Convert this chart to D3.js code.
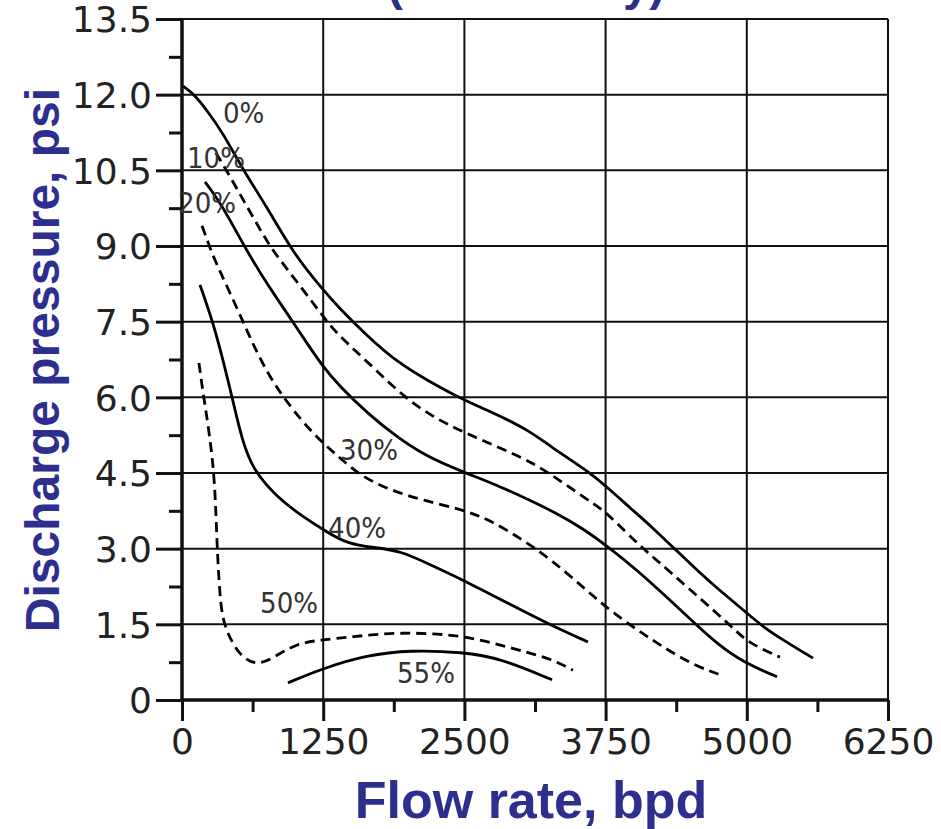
<!DOCTYPE html>
<html>
<head>
<meta charset="utf-8">
<script src="https://cdn.jsdelivr.net/npm/d3@7"></script>
<style>
  body { margin: 0; background: #fff; }
  #container { width: 941px; height: 829px; }
</style>
</head>
<body>
<div id="container"></div>
<script>
// flow rate (bpd) / discharge pressure (psi), one array per gas fraction
const flow0   = [10, 97, 221, 363, 540, 753, 983, 1248, 1399, 1638, 1903, 2169, 2488, 2789, 3081, 3258, 3585, 3763, 3966, 4170, 4391, 4586, 4736, 5002, 5144, 5321, 5586];
const press0  = [12.17, 12.03, 11.69, 11.24, 10.51, 9.77, 8.86, 8.13, 7.75, 7.22, 6.70, 6.34, 5.95, 5.66, 5.33, 5.03, 4.55, 4.22, 3.81, 3.41, 2.93, 2.52, 2.22, 1.72, 1.45, 1.19, 0.83];

const flow10  = [300, 450, 558, 690, 806, 983, 1160, 1284, 1399, 1691, 1957, 2222, 2488, 2815, 3107, 3300, 3683, 3763, 4055, 4205, 4471, 4736, 4913, 5028, 5294];
const press10 = [10.85, 10.28, 9.85, 9.33, 8.90, 8.39, 7.87, 7.50, 7.20, 6.60, 6.02, 5.61, 5.31, 5.00, 4.70, 4.42, 3.83, 3.70, 3.05, 2.77, 2.24, 1.72, 1.35, 1.12, 0.85];

const flow20  = [204, 310, 425, 530, 690, 868, 1045, 1248, 1399, 1638, 1903, 2169, 2488, 2789, 3081, 3300, 3550, 3763, 4028, 4320, 4559, 4736, 4966, 5268];
const press20 = [10.27, 9.95, 9.52, 9.08, 8.47, 7.87, 7.28, 6.60, 6.21, 5.69, 5.21, 4.82, 4.52, 4.26, 3.96, 3.72, 3.40, 3.05, 2.58, 1.98, 1.48, 1.12, 0.75, 0.46];

const flow30  = [177, 230, 274, 398, 531, 629, 753, 868, 983, 1133, 1284, 1399, 1576, 1841, 2134, 2488, 2727, 3019, 3258, 3550, 3763, 4028, 4232, 4524, 4790];
const press30 = [9.40, 9.08, 8.80, 8.20, 7.55, 7.05, 6.50, 6.10, 5.75, 5.35, 5.02, 4.80, 4.45, 4.16, 3.96, 3.77, 3.57, 3.17, 2.80, 2.24, 1.82, 1.39, 1.09, 0.69, 0.48];

const flow40  = [159, 274, 363, 443, 531, 629, 841, 1071, 1284, 1461, 1700, 1930, 2200, 2488, 2900, 3258, 3594];
const press40 = [8.23, 7.49, 6.74, 6.01, 5.15, 4.56, 4.02, 3.63, 3.33, 3.10, 3.02, 2.96, 2.68, 2.38, 1.90, 1.49, 1.15];

const flow50  = [150, 186, 248, 292, 310, 336, 363, 443, 540, 664, 806, 1018, 1248, 1487, 1930, 2488, 2877, 3258, 3461];
const press50 = [6.68, 6.09, 5.21, 4.30, 3.03, 2.04, 1.55, 1.13, 0.83, 0.69, 0.83, 1.13, 1.19, 1.25, 1.35, 1.29, 1.05, 0.83, 0.59];

const flow55  = [938, 1248, 1638, 2018, 2488, 2815, 3276];
const press55 = [0.34, 0.63, 0.89, 0.99, 0.95, 0.83, 0.40];

const curveNames = ["0%", "10%", "20%", "30%", "40%", "50%", "55%"];
const curveDashed = [false, true, false, true, false, true, false];
// where each curve's label sits, in data units (flow, psi)
const labelFlow  = [363, 44, -35, 1399, 1293, 691, 1903];
const labelPress = [11.44, 10.54, 9.65, 4.76, 3.21, 1.72, 0.34];

const xTicks = [0, 1250, 2500, 3750, 5000, 6250];
const xMinor = [625, 1875, 3125, 4375, 5625];
const yTicks = [0, 1.5, 3.0, 4.5, 6.0, 7.5, 9.0, 10.5, 12.0, 13.5];
const yMinor = [0.75, 2.25, 3.75, 5.25, 6.75, 8.25, 9.75, 11.25, 12.75];

const blue = "#2d2f8f";

let margin = { left: 182, right: 53, top: 19, bottom: 129 },
    width = 941,
    height = 829;

let x = d3.scaleLinear()
  .domain([0, 6250])
  .range([margin.left, width - margin.right]);

let y = d3.scaleLinear()
  .domain([0, 13.5])
  .range([height - margin.bottom, margin.top]);

let svg = appendSvg();
buildGrid(svg);
buildAxes(svg);
buildCurves(svg);
buildLabels(svg);
buildTitles(svg);

function appendSvg() {
  return d3.select("#container")
    .append("svg")
      .attr("width", width)
      .attr("height", height)
      .style("background", "#fff");
}

function buildGrid(svg) {
  let g = svg.append("g").attr("class", "grid");

  g.selectAll("line.v")
    .data(xTicks.slice(1))
    .enter().append("line")
      .attr("class", "v")
      .attr("x1", d => x(d)).attr("x2", d => x(d))
      .attr("y1", y(0)).attr("y2", y(13.5))
      .attr("stroke", "#111")
      .attr("stroke-width", 2);

  g.selectAll("line.h")
    .data(yTicks.slice(1))
    .enter().append("line")
      .attr("class", "h")
      .attr("x1", x(0)).attr("x2", x(6250))
      .attr("y1", d => y(d)).attr("y2", d => y(d))
      .attr("stroke", "#111")
      .attr("stroke-width", 2);
}

function buildAxes(svg) {
  let font = "'DejaVu Sans', Verdana, sans-serif";

  // minor ticks first, majors with labels on top
  svg.append("g")
    .attr("transform", "translate(" + x(0) + ",0)")
    .call(d3.axisLeft(y).tickValues(yMinor).tickSize(13).tickFormat(""))
    .call(g => g.select(".domain").remove())
    .selectAll("line").attr("stroke", "#111").attr("stroke-width", 3);

  svg.append("g")
    .attr("transform", "translate(0," + y(0) + ")")
    .call(d3.axisBottom(x).tickValues(xMinor).tickSize(12).tickFormat(""))
    .call(g => g.select(".domain").remove())
    .selectAll("line").attr("stroke", "#111").attr("stroke-width", 3);

  // the bottom label is a bare "0"
  let yAxis = svg.append("g")
    .attr("transform", "translate(" + x(0) + ",0)")
    .call(d3.axisLeft(y).tickValues(yTicks).tickSize(26).tickPadding(4)
      .tickFormat(d => d === 0 ? "0" : d.toFixed(1)));

  let xAxis = svg.append("g")
    .attr("transform", "translate(0," + y(0) + ")")
    .call(d3.axisBottom(x).tickValues(xTicks).tickSize(21).tickPadding(7).tickFormat(d3.format("d")));

  [yAxis, xAxis].forEach(function(a) {
    a.select(".domain").remove();
    a.selectAll("line").attr("stroke", "#111").attr("stroke-width", 3);
    a.selectAll("text")
      .attr("fill", "#222")
      .style("font-family", font)
      .style("font-size", "36px");
  });
  yAxis.selectAll("text").attr("dy", "0.36em");

  // heavy axis lines
  svg.append("line")
    .attr("x1", x(0)).attr("x2", x(0))
    .attr("y1", y(0) + 1.5).attr("y2", y(13.5))
    .attr("stroke", "#111").attr("stroke-width", 3.5);
  svg.append("line")
    .attr("x1", x(0) - 1.5).attr("x2", x(6250))
    .attr("y1", y(0)).attr("y2", y(0))
    .attr("stroke", "#111").attr("stroke-width", 3.5);
}

function buildCurves(svg) {
  let flows = [flow0, flow10, flow20, flow30, flow40, flow50, flow55],
      presses = [press0, press10, press20, press30, press40, press50, press55];

  let line = d3.line()
    .x(d => x(d[0]))
    .y(d => y(d[1]))
    .curve(d3.curveBasis);

  let series = curveNames.map(function(name, i) {
    return { name: name, dashed: curveDashed[i], points: d3.zip(flows[i], presses[i]) };
  });

  svg.append("g")
      .attr("class", "curves")
    .selectAll("path")
    .data(series)
    .enter().append("path")
      .attr("d", d => line(d.points))
      .attr("fill", "none")
      .attr("stroke", "#000")
      .attr("stroke-width", 2.8)
      .attr("stroke-dasharray", d => d.dashed ? "10,6" : null);
}

function buildLabels(svg) {
  svg.append("g")
      .attr("class", "labels")
    .selectAll("text")
    .data(curveNames)
    .enter().append("text")
      .attr("x", (d, i) => x(labelFlow[i]))
      .attr("y", (d, i) => y(labelPress[i]))
      .attr("fill", "#333")
      .style("font-family", "'DejaVu Sans Condensed', 'DejaVu Sans', sans-serif")
      .style("font-stretch", "condensed")
      .style("font-size", "29px")
      .text(d => d);
}

function buildTitles(svg) {
  let font = "'Liberation Sans', Arial, sans-serif";

  // title above the plot is cut off by the frame; only its descenders show
  svg.append("text")
    .attr("x", 526)
    .attr("y", 0)
    .attr("text-anchor", "middle")
    .attr("fill", blue)
    .style("font-family", font)
    .style("font-weight", "bold")
    .style("font-size", "47px")
    .text("(Water Only)");

  svg.append("text")
    .attr("transform", "translate(59," + 360 + ") rotate(-90)")
    .attr("text-anchor", "middle")
    .attr("fill", blue)
    .style("font-family", font)
    .style("font-weight", "bold")
    .style("font-size", "48px")
    .text("Discharge pressure, psi");

  svg.append("text")
    .attr("x", 531)
    .attr("y", 818)
    .attr("text-anchor", "middle")
    .attr("fill", blue)
    .style("font-family", font)
    .style("font-weight", "bold")
    .style("font-size", "52px")
    .text("Flow rate, bpd");
}
</script>
</body>
</html>
